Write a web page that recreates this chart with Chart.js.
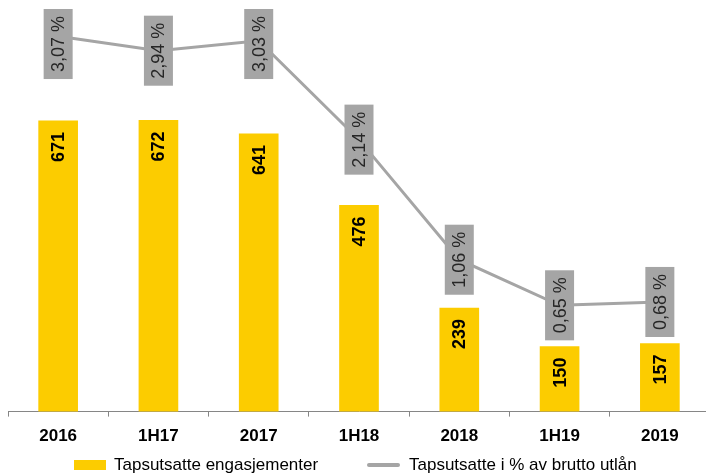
<!DOCTYPE html>
<html lang="no">
  <head>
    <meta charset="UTF-8" />
    <title>Tapsutsatte engasjementer</title>
    <script src="https://cdn.jsdelivr.net/npm/chart.js"></script>
    <style>
      body {
        margin: 0;
        background: #ffffff;
      }
      #frame {
        width: 706px;
        height: 475px;
        overflow: hidden;
      }
      /* a little wider than the window, the last tick falls just off-screen like the original */
      #chart-container {
        width: 710px;
        height: 475px;
        position: relative;
      }
    </style>
  </head>
  <body>
    <div id="frame">
      <div id="chart-container">
        <canvas id="lossChart"></canvas>
      </div>
    </div>

    <script>
      // Data
      const periods = ["2016", "1H17", "2017", "1H18", "2018", "1H19", "2019"];
      const lossExposures = [671, 672, 641, 476, 239, 150, 157];
      const lossPercent = [3.07, 2.94, 3.03, 2.14, 1.06, 0.65, 0.68];
      const legendLabels = [
        "Tapsutsatte engasjementer",
        "Tapsutsatte i % av brutto utlån",
      ];

      const YELLOW = "#FCCC00";
      const GREY = "#A5A5A5";
      const FONT = "'Liberation Sans', Arial, sans-serif";

      // norwegian decimal comma
      function fmtPercent(v) {
        return v.toFixed(2).replace(".", ",") + " %";
      }

      // bold value labels inside the bars, rotated, near the top
      const barLabels = {
        id: "barLabels",
        afterDatasetsDraw(chart) {
          const ctx = chart.ctx;
          const meta = chart.getDatasetMeta(0);
          ctx.save();
          ctx.font = "bold 18px " + FONT;
          ctx.fillStyle = "#000000";
          ctx.textAlign = "right";
          ctx.textBaseline = "middle";
          meta.data.forEach((bar, i) => {
            ctx.save();
            ctx.translate(bar.x + 1, bar.y + 11);
            ctx.rotate(-Math.PI / 2);
            ctx.fillText(String(lossExposures[i]), 0, 0);
            ctx.restore();
          });
          ctx.restore();
        },
      };

      // grey boxes with the percentage, centred on each line point
      // (kept inside the plot, so the top ones get pushed down a bit)
      const lineLabels = {
        id: "lineLabels",
        afterDatasetsDraw(chart) {
          const ctx = chart.ctx;
          const meta = chart.getDatasetMeta(1);
          ctx.save();
          ctx.font = "18px " + FONT;
          meta.data.forEach((pt, i) => {
            const text = fmtPercent(lossPercent[i]);
            const tw = ctx.measureText(text).width;
            const boxW = 29;
            const boxH = tw + 14;
            const top = Math.max(9, pt.y - boxH / 2);
            ctx.fillStyle = GREY;
            ctx.fillRect(pt.x - boxW / 2, top, boxW, boxH);
            ctx.save();
            ctx.translate(pt.x + 1, top + boxH / 2);
            ctx.rotate(-Math.PI / 2);
            ctx.fillStyle = "#262626";
            ctx.textAlign = "center";
            ctx.textBaseline = "middle";
            ctx.fillText(text, 0, 0);
            ctx.restore();
          });
          ctx.restore();
        },
      };

      // legend drawn by hand so it sits where the original has it
      const bottomLegend = {
        id: "bottomLegend",
        afterDraw(chart) {
          const ctx = chart.ctx;
          ctx.save();
          ctx.font = "17px " + FONT;
          ctx.textBaseline = "middle";
          const y = 465;
          ctx.fillStyle = YELLOW;
          ctx.fillRect(74, 460, 32, 10);
          ctx.fillStyle = "#000000";
          ctx.fillText(legendLabels[0], 114, y);
          ctx.strokeStyle = GREY;
          ctx.lineWidth = 4;
          ctx.lineCap = "round";
          ctx.beginPath();
          ctx.moveTo(369, y);
          ctx.lineTo(398, y);
          ctx.stroke();
          ctx.fillText(legendLabels[1], 409, y);
          ctx.restore();
        },
      };

      const ctx = document.getElementById("lossChart").getContext("2d");
      new Chart(ctx, {
        data: {
          labels: periods,
          datasets: [
            {
              type: "bar",
              label: legendLabels[0],
              data: lossExposures,
              backgroundColor: YELLOW,
              barThickness: 39,
              yAxisID: "y",
              order: 2,
            },
            {
              type: "line",
              label: legendLabels[1],
              data: lossPercent,
              borderColor: GREY,
              borderWidth: 3,
              pointRadius: 0,
              tension: 0,
              yAxisID: "y2",
              order: 1,
            },
          ],
        },
        options: {
          responsive: true,
          maintainAspectRatio: false,
          animation: false,
          layout: {
            padding: { left: 8, right: 0, top: 0, bottom: 18 },
          },
          plugins: {
            legend: { display: false },
            tooltip: { enabled: false },
          },
          scales: {
            x: {
              offset: true,
              grid: {
                display: true,
                drawOnChartArea: false,
                drawTicks: true,
                tickLength: 5,
                color: "#868686",
                offset: true,
              },
              border: { display: true, color: "#868686", width: 1 },
              ticks: {
                color: "#000000",
                padding: 10,
                font: { family: FONT, size: 17, weight: "bold" },
              },
            },
            y: {
              display: false,
              min: 0,
              max: 950,
            },
            y2: {
              display: false,
              position: "right",
              min: -0.306,
              max: 3.396,
            },
          },
        },
        plugins: [barLabels, lineLabels, bottomLegend],
      });
    </script>
  </body>
</html>
